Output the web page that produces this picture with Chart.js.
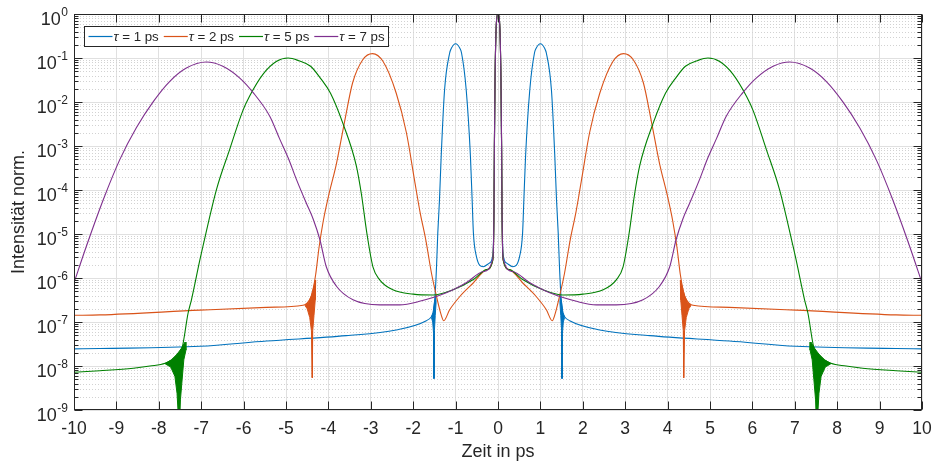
<!DOCTYPE html>
<html>
<head>
<meta charset="utf-8">
<script src="https://cdn.jsdelivr.net/npm/chart.js@4.4.1/dist/chart.umd.min.js"></script>
<style>
  html, body { margin: 0; padding: 0; background: #ffffff; }
  #wrap { width: 932px; height: 468px; }
</style>
</head>
<body>
<div id="wrap"><canvas id="chart" width="932" height="468"></canvas></div>
<script>
// Pulse delays (legend entries) and line colours
const tauLabels = ['1 ps', '2 ps', '5 ps', '7 ps'];
const lineColors = ['#0072BD', '#D95319', '#008000', '#7E2F8E'];

// Axis ticks
const xTicks = [-10, -9, -8, -7, -6, -5, -4, -3, -2, -1, 0, 1, 2, 3, 4, 5, 6, 7, 8, 9, 10];
const yExponents = [0, -1, -2, -3, -4, -5, -6, -7, -8, -9];

// tau = 1 ps
const tau1X = [-10, -9.39, -7.03, -5.46, -3.58, -2.40, -1.69, -1.57, -1.53, -1.49, -1.45, -1.42, -1.38, -1.34, -1.26, -1.14, -1.10, -1.00, -0.90, -0.86, -0.75, -0.65, -0.61, -0.58, -0.51, -0.35, -0.20, -0.12, -0.095, -0.085, -0.07, -0.05, -0.03,
  0,
  0.03, 0.05, 0.07, 0.085, 0.095, 0.12, 0.20, 0.35, 0.51, 0.58, 0.61, 0.65, 0.75, 0.86, 0.90, 1.00, 1.10, 1.14, 1.26, 1.34, 1.38, 1.42, 1.45, 1.49, 1.53, 1.57, 1.69, 2.40, 3.58, 5.46, 7.03, 9.39, 10];
const tau1Y = [2.45e-8, 2.5e-8, 2.8e-8, 3.7e-8, 4.9e-8, 6.6e-8, 1.07e-7, 1.32e-7, 1.58e-7, 3.2e-7, 1.8e-6, 1.05e-5, 6.0e-5, 5.8e-4, 1.9e-2, 0.13, 0.166, 0.21, 0.166, 0.13, 1.9e-2, 5.8e-4, 6.0e-5, 1.05e-5, 3.1e-6, 1.8e-6, 2.2e-6, 3.5e-6, 3.2e-5, 1e-3, 3.2e-2, 0.32, 0.79,
  1,
  0.79, 0.32, 3.2e-2, 1e-3, 3.2e-5, 3.5e-6, 2.2e-6, 1.8e-6, 3.1e-6, 1.05e-5, 6.0e-5, 5.8e-4, 1.9e-2, 0.13, 0.166, 0.21, 0.166, 0.13, 1.9e-2, 5.8e-4, 6.0e-5, 1.05e-5, 1.8e-6, 3.2e-7, 1.58e-7, 1.32e-7, 1.07e-7, 6.6e-8, 4.9e-8, 3.7e-8, 2.8e-8, 2.5e-8, 2.45e-8];

// tau = 2 ps
const tau2X = [-10, -9.39, -7.03, -5.46, -4.60, -4.52, -4.42, -4.36, -4.30, -4.22, -4.12, -4.00, -3.81, -3.62, -3.43, -3.19, -2.96, -2.71, -2.40, -2.16, -1.97, -1.84, -1.70, -1.57, -1.45, -1.34, -1.28, -1.14, -0.90, -0.59, -0.27, -0.12, -0.095, -0.085, -0.07, -0.05, -0.03,
  0,
  0.03, 0.05, 0.07, 0.085, 0.095, 0.12, 0.27, 0.59, 0.90, 1.14, 1.28, 1.34, 1.45, 1.57, 1.70, 1.84, 1.97, 2.16, 2.40, 2.71, 2.96, 3.19, 3.43, 3.62, 3.81, 4.00, 4.12, 4.22, 4.30, 4.36, 4.42, 4.52, 4.60, 5.46, 7.03, 9.39, 10];
const tau2Y = [1.42e-7, 1.45e-7, 1.86e-7, 2.15e-7, 2.4e-7, 2.6e-7, 3.5e-7, 5.6e-7, 1.2e-6, 5.0e-6, 2.0e-5, 7.1e-5, 4.0e-4, 3.5e-3, 2.7e-2, 9.1e-2, 0.126, 8.3e-2, 1.58e-2, 2.0e-3, 1.7e-4, 3.2e-5, 7.1e-6, 1.3e-6, 3.8e-7, 1.45e-7, 1.07e-7, 1.9e-7, 3.8e-7, 7.6e-7, 1.55e-6, 2.6e-6, 3.2e-5, 1e-3, 3.2e-2, 0.32, 0.79,
  1,
  0.79, 0.32, 3.2e-2, 1e-3, 3.2e-5, 2.6e-6, 1.55e-6, 7.6e-7, 3.8e-7, 1.9e-7, 1.07e-7, 1.45e-7, 3.8e-7, 1.3e-6, 7.1e-6, 3.2e-5, 1.7e-4, 2.0e-3, 1.58e-2, 8.3e-2, 0.126, 9.1e-2, 2.7e-2, 3.5e-3, 4.0e-4, 7.1e-5, 2.0e-5, 5.0e-6, 1.2e-6, 5.6e-7, 3.5e-7, 2.6e-7, 2.4e-7, 2.15e-7, 1.86e-7, 1.45e-7, 1.42e-7];

// tau = 5 ps
const tau5X = [-10, -9.39, -8.60, -8.21, -7.85, -7.70, -7.59, -7.45, -7.31, -7.23, -7.03, -6.96, -6.64, -6.33, -6.02, -5.86, -5.54, -5.23, -4.95, -4.70, -4.42, -4.19, -3.95, -3.66, -3.34, -3.22, -3.09, -2.95, -2.79, -2.48, -2.00, -1.53, -1.06, -0.59, -0.27, -0.12, -0.095, -0.085, -0.07, -0.05, -0.03,
  0,
  0.03, 0.05, 0.07, 0.085, 0.095, 0.12, 0.27, 0.59, 1.06, 1.53, 2.00, 2.48, 2.79, 2.95, 3.09, 3.22, 3.34, 3.66, 3.95, 4.19, 4.42, 4.70, 4.95, 5.23, 5.54, 5.86, 6.02, 6.33, 6.64, 6.96, 7.03, 7.23, 7.31, 7.45, 7.59, 7.70, 7.85, 8.21, 8.60, 9.39, 10];
const tau5Y = [7.2e-9, 7.8e-9, 8.9e-9, 1.0e-8, 1.15e-8, 1.38e-8, 1.74e-8, 2.6e-8, 1.58e-7, 3.2e-7, 2.6e-6, 5.2e-6, 1.02e-4, 8.3e-4, 6.3e-3, 1.35e-2, 4.3e-2, 8.3e-2, 0.10, 8.7e-2, 6.5e-2, 3.5e-2, 1.58e-2, 3.3e-3, 3.5e-4, 7.9e-5, 1.0e-5, 1.8e-6, 9.1e-7, 5.4e-7, 4.3e-7, 4.1e-7, 5.4e-7, 9.1e-7, 1.55e-6, 2.6e-6, 3.2e-5, 1e-3, 3.2e-2, 0.32, 0.79,
  1,
  0.79, 0.32, 3.2e-2, 1e-3, 3.2e-5, 2.6e-6, 1.55e-6, 9.1e-7, 5.4e-7, 4.1e-7, 4.3e-7, 5.4e-7, 9.1e-7, 1.8e-6, 1.0e-5, 7.9e-5, 3.5e-4, 3.3e-3, 1.58e-2, 3.5e-2, 6.5e-2, 8.7e-2, 0.10, 8.3e-2, 4.3e-2, 1.35e-2, 6.3e-3, 8.3e-4, 1.02e-4, 5.2e-6, 2.6e-6, 3.2e-7, 1.58e-7, 2.6e-8, 1.74e-8, 1.38e-8, 1.15e-8, 1.0e-8, 8.9e-9, 7.8e-9, 7.2e-9];

// tau = 7 ps
const tau7X = [-10, -9.71, -9.31, -8.92, -8.53, -8.13, -7.74, -7.35, -6.88, -6.49, -6.09, -5.78, -5.38, -5.15, -4.95, -4.75, -4.52, -4.36, -4.20, -4.05, -3.81, -3.42, -2.79, -2.32, -1.85, -1.22, -0.75, -0.35, -0.12, -0.095, -0.085, -0.07, -0.05, -0.03,
  0,
  0.03, 0.05, 0.07, 0.085, 0.095, 0.12, 0.35, 0.75, 1.22, 1.85, 2.32, 2.79, 3.42, 3.81, 4.05, 4.20, 4.36, 4.52, 4.75, 4.95, 5.15, 5.38, 5.78, 6.09, 6.49, 6.88, 7.35, 7.74, 8.13, 8.53, 8.92, 9.31, 9.71, 10];
const tau7Y = [7.8e-7, 5.2e-6, 6.0e-5, 4.9e-4, 2.6e-3, 1.02e-2, 2.95e-2, 5.9e-2, 8.1e-2, 6.5e-2, 3.5e-2, 1.66e-2, 4.7e-3, 1.45e-3, 5.4e-4, 1.7e-4, 5.0e-5, 2.2e-5, 7.4e-6, 1.8e-6, 6.5e-7, 3.2e-7, 2.45e-7, 2.45e-7, 2.95e-7, 4.6e-7, 7.8e-7, 1.4e-6, 2.8e-6, 3.2e-5, 1e-3, 3.2e-2, 0.32, 0.79,
  1,
  0.79, 0.32, 3.2e-2, 1e-3, 3.2e-5, 2.8e-6, 1.4e-6, 7.8e-7, 4.6e-7, 2.95e-7, 2.45e-7, 2.45e-7, 3.2e-7, 6.5e-7, 1.8e-6, 7.4e-6, 2.2e-5, 5.0e-5, 1.7e-4, 5.4e-4, 1.45e-3, 4.7e-3, 1.66e-2, 3.5e-2, 6.5e-2, 8.1e-2, 5.9e-2, 2.95e-2, 1.02e-2, 2.6e-3, 4.9e-4, 6.0e-5, 5.2e-6, 7.8e-7];

// Envelopes of the fast ripples where the curves dip (outline, closed shapes)
const ripple1LeftX  = [-1.57, -1.53, -1.50, -1.47, -1.46, -1.48, -1.50, -1.505, -1.515, -1.52, -1.54, -1.57];
const ripple1RightX = [1.57, 1.53, 1.50, 1.47, 1.46, 1.48, 1.50, 1.505, 1.515, 1.52, 1.54, 1.57];
const ripple1Y      = [1.32e-7, 1.66e-7, 2.8e-7, 4.0e-7, 2.8e-7, 1.4e-7, 6.3e-8, 5.2e-9, 5.2e-9, 5.5e-8, 1.0e-7, 1.26e-7];

const ripple2LeftX  = [-4.55, -4.47, -4.40, -4.33, -4.30, -4.31, -4.34, -4.37, -4.375, -4.385, -4.40, -4.44, -4.50, -4.55];
const ripple2RightX = [4.55, 4.47, 4.40, 4.33, 4.30, 4.31, 4.34, 4.37, 4.375, 4.385, 4.40, 4.44, 4.50, 4.55];
const ripple2Y      = [2.4e-7, 2.8e-7, 4.0e-7, 7.1e-7, 8.9e-7, 3.2e-7, 1.4e-7, 6.3e-8, 5.4e-9, 5.4e-9, 6.3e-8, 1.26e-7, 2.0e-7, 2.35e-7];

const ripple5LeftX  = [-7.85, -7.70, -7.59, -7.47, -7.38, -7.36, -7.41, -7.45, -7.49, -7.51, -7.53, -7.57, -7.62, -7.72, -7.85];
const ripple5RightX = [7.85, 7.70, 7.59, 7.47, 7.38, 7.36, 7.41, 7.45, 7.49, 7.51, 7.53, 7.57, 7.62, 7.72, 7.85];
const ripple5Y      = [1.15e-8, 1.38e-8, 1.74e-8, 2.5e-8, 3.5e-8, 2.3e-8, 1.38e-8, 4.9e-9, 1.7e-9, 5e-10, 5e-10, 2.4e-9, 5.8e-9, 9.5e-9, 1.12e-8];

const FONT = "'Liberation Sans', Arial, Helvetica, sans-serif";
const INK = '#262626';

function pts(xs, ys) { return xs.map((x, i) => ({ x: x, y: ys[i] })); }

function curve(xs, ys, color, order) {
  return {
    data: pts(xs, ys), borderColor: color, backgroundColor: color,
    borderWidth: 1.1, pointRadius: 0, showLine: true, fill: false,
    cubicInterpolationMode: 'monotone', order: order
  };
}
function ripple(xs, ys, color, order) {
  return {
    data: pts(xs, ys), borderColor: color, backgroundColor: color,
    borderWidth: 1, pointRadius: 0, showLine: true, fill: 'shape',
    tension: 0, order: order
  };
}

const datasets = [
  curve(tau7X, tau7Y, lineColors[3], 0),
  curve(tau5X, tau5Y, lineColors[2], 1),
  ripple(ripple5LeftX, ripple5Y, lineColors[2], 1),
  ripple(ripple5RightX, ripple5Y, lineColors[2], 1),
  curve(tau2X, tau2Y, lineColors[1], 2),
  ripple(ripple2LeftX, ripple2Y, lineColors[1], 2),
  ripple(ripple2RightX, ripple2Y, lineColors[1], 2),
  curve(tau1X, tau1Y, lineColors[0], 3),
  ripple(ripple1LeftX, ripple1Y, lineColors[0], 3),
  ripple(ripple1RightX, ripple1Y, lineColors[0], 3)
];

// Minor/major horizontal grid, inward ticks, boxed axes, y labels with exponents, legend
const axesDecor = {
  id: 'axesDecor',
  beforeDatasetsDraw(chart) {
    const { ctx, chartArea: a, scales: { y } } = chart;
    ctx.save();
    ctx.lineWidth = 1;
    ctx.strokeStyle = '#d2d2d2';
    ctx.setLineDash([1, 2]);
    for (const e of yExponents) {
      for (let m = 2; m <= 9; m++) {
        const v = m * Math.pow(10, e);
        if (v >= 1) continue;
        const py = Math.round(y.getPixelForValue(v)) + 0.5;
        ctx.beginPath(); ctx.moveTo(a.left, py); ctx.lineTo(a.right, py); ctx.stroke();
      }
    }
    ctx.setLineDash([]);
    ctx.strokeStyle = '#e0e0e0';
    for (const e of yExponents) {
      const py = Math.round(y.getPixelForValue(Math.pow(10, e))) + 0.5;
      ctx.beginPath(); ctx.moveTo(a.left, py); ctx.lineTo(a.right, py); ctx.stroke();
    }
    ctx.restore();
  },
  afterDraw(chart) {
    const { ctx, chartArea: a, scales: { x, y } } = chart;
    const L = Math.round(a.left) + 0.5, R = Math.round(a.right) - 0.5;
    const T = Math.round(a.top) + 0.5, B = Math.round(a.bottom) - 0.5;
    ctx.save();
    ctx.strokeStyle = INK;
    ctx.lineWidth = 1;
    // ticks on x (top and bottom)
    ctx.beginPath();
    for (const v of xTicks) {
      const px = Math.round(x.getPixelForValue(v)) + 0.5;
      ctx.moveTo(px, B); ctx.lineTo(px, B - 8);
      ctx.moveTo(px, T); ctx.lineTo(px, T + 8);
    }
    // ticks on y (left and right), decades and sub-decades
    for (const e of yExponents) {
      for (let m = 1; m <= 9; m++) {
        const v = m * Math.pow(10, e);
        if (v > 1) continue;
        const py = Math.round(y.getPixelForValue(v)) + 0.5;
        const len = m === 1 ? 8 : 4;
        ctx.moveTo(L, py); ctx.lineTo(L + len, py);
        ctx.moveTo(R, py); ctx.lineTo(R - len, py);
      }
    }
    ctx.stroke();
    ctx.strokeRect(L, T, R - L, B - T);

    // y tick labels 10^n
    ctx.fillStyle = INK;
    ctx.textBaseline = 'alphabetic';
    for (const e of yExponents) {
      const py = y.getPixelForValue(Math.pow(10, e));
      const expText = String(e);
      ctx.font = '12px ' + FONT;
      const ew = ctx.measureText(expText).width;
      const right = 68;
      ctx.textAlign = 'left';
      ctx.fillText(expText, right - ew, py + 2);
      ctx.font = '18px ' + FONT;
      ctx.textAlign = 'right';
      ctx.fillText('10', right - ew - 0.5, py + 11);
    }

    // legend
    const fs = 13.3;
    const lx = 84.5, ly = 26.5, lh = 20;
    const cy = ly + lh / 2;
    let cx = lx + 4;
    const items = [];
    for (let i = 0; i < tauLabels.length; i++) {
      const lineStart = cx;
      cx += 24;
      ctx.font = 'italic ' + fs + 'px ' + FONT;
      const tw = ctx.measureText('\u03C4').width;
      ctx.font = fs + 'px ' + FONT;
      const rw = ctx.measureText(' = ' + tauLabels[i]).width;
      items.push({ lineStart, textStart: cx + 1, tw, rw, color: lineColors[i], label: tauLabels[i] });
      cx += 1 + tw + rw + 5;
    }
    const boxRight = cx - 5 + 4;
    ctx.fillStyle = '#ffffff';
    ctx.fillRect(lx, ly, boxRight - lx, lh);
    ctx.strokeStyle = INK;
    ctx.strokeRect(lx, ly, Math.round(boxRight - lx), lh);
    for (const it of items) {
      ctx.strokeStyle = it.color;
      ctx.lineWidth = 1.2;
      ctx.beginPath(); ctx.moveTo(it.lineStart, cy); ctx.lineTo(it.lineStart + 24, cy); ctx.stroke();
      ctx.fillStyle = INK;
      ctx.textAlign = 'left';
      ctx.textBaseline = 'middle';
      ctx.font = 'italic ' + fs + 'px ' + FONT;
      ctx.fillText('\u03C4', it.textStart, cy + 1);
      ctx.font = fs + 'px ' + FONT;
      ctx.fillText(' = ' + it.label, it.textStart + it.tw, cy + 1);
    }
    ctx.restore();
  }
};

new Chart(document.getElementById('chart'), {
  type: 'scatter',
  data: { datasets },
  options: {
    responsive: false,
    animation: false,
    devicePixelRatio: 1,
    layout: { padding: { top: 14, right: 0, left: 0, bottom: 0 } },
    plugins: { legend: { display: false }, tooltip: { enabled: false } },
    scales: {
      x: {
        type: 'linear', min: -10, max: 10,
        afterBuildTicks: s => { s.ticks = xTicks.map(v => ({ value: v })); },
        afterFit: s => { s.height = 58; s.paddingLeft = 0; s.paddingRight = 10; },
        grid: { color: '#e0e0e0', lineWidth: 1, drawTicks: false },
        border: { display: false },
        ticks: { color: INK, font: { family: FONT, size: 17.5 }, padding: 9, maxRotation: 0, autoSkip: false },
        title: { display: true, text: 'Zeit in ps', color: INK, font: { family: FONT, size: 18 }, padding: { top: 0, bottom: 5 } }
      },
      y: {
        type: 'logarithmic', min: 1e-9, max: 1,
        afterFit: s => { s.width = 74; s.paddingTop = 0; s.paddingBottom = 0; },
        grid: { display: false, drawTicks: false },
        border: { display: false },
        ticks: { display: false },
        title: { display: true, text: 'Intensität norm.', color: INK, font: { family: FONT, size: 18 }, padding: { top: 8, bottom: 0 } }
      }
    }
  },
  plugins: [axesDecor]
});
</script>
</body>
</html>
